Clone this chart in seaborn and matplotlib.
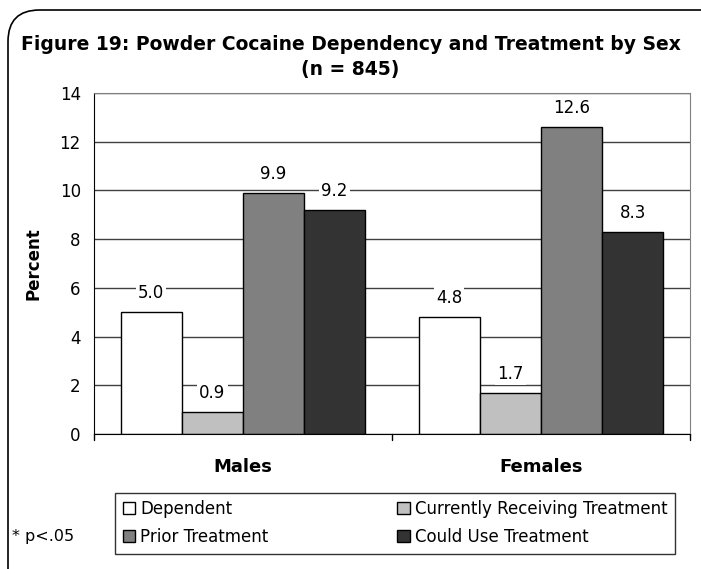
import matplotlib
matplotlib.use("Agg")
import matplotlib.pyplot as plt
import seaborn as sns
import pandas as pd
from matplotlib.patches import FancyBboxPatch

sexes = ["Males", "Females"]
measures = ["Dependent", "Currently Receiving Treatment", "Prior Treatment", "Could Use Treatment"]
males_pct = [5.0, 0.9, 9.9, 9.2]
females_pct = [4.8, 1.7, 12.6, 8.3]
bar_colors = ["#ffffff", "#c0c0c0", "#808080", "#333333"]

rows = []
for m, a, b in zip(measures, males_pct, females_pct):
    rows.append({"sex": "Males", "measure": m, "pct": a})
    rows.append({"sex": "Females", "measure": m, "pct": b})
df = pd.DataFrame(rows)

sns.set_style("white")
plt.rcParams["font.family"] = ["DejaVu Sans"]
plt.rcParams["text.color"] = "black"
plt.rcParams["axes.labelcolor"] = "black"
plt.rcParams["xtick.color"] = "black"
plt.rcParams["ytick.color"] = "black"

fig = plt.figure(figsize=(7.01, 5.69), dpi=100)
ax = fig.add_axes([94 / 701, 1 - 434 / 569, 596 / 701, 341 / 569])

sns.barplot(data=df, x="sex", y="pct", hue="measure", order=sexes,
            hue_order=measures, palette=bar_colors, edgecolor="black",
            linewidth=1, width=0.82, saturation=1, ax=ax)

ax.set_ylim(0, 14)
ax.set_yticks(range(0, 15, 2))
ax.set_xlim(-0.5, 1.5)
ax.grid(axis="y", color="#404040", linewidth=1)
ax.set_axisbelow(True)
for s in ["top", "right"]:
    ax.spines[s].set_color("#808080")
for s in ["left", "bottom"]:
    ax.spines[s].set_color("black")
ax.tick_params(axis="y", direction="out", length=6, color="black", labelsize=12)
ax.set_xticks([0, 1])
ax.set_xticklabels(sexes, fontsize=13, fontweight="bold")
ax.tick_params(axis="x", length=0, pad=17)
# separator ticks between categories
for xv in [-0.5, 0.5, 1.5]:
    ax.plot([xv, xv], [0, -0.25], color="black", lw=1, clip_on=False)
ax.set_xlabel("")
ax.set_ylabel("Percent", fontsize=12, fontweight="bold", labelpad=12)

for cont in ax.containers:
    ax.bar_label(cont, fmt="%.1f", padding=7, fontsize=12,
                 bbox=dict(facecolor="white", edgecolor="none", pad=1.5))

handles, labels = ax.get_legend_handles_labels()
order = [0, 2, 1, 3]
leg = ax.legend([handles[i] for i in order], [labels[i] for i in order],
                ncol=2, loc="center", mode="expand",
                bbox_to_anchor=(115 / 701, 1 - 556 / 569, 560 / 701, 66 / 569),
                bbox_transform=fig.transFigure, fontsize=12, frameon=True,
                fancybox=False, edgecolor="black", handlelength=0.75,
                handleheight=0.75, handletextpad=0.3, columnspacing=3,
                labelspacing=0.6, borderpad=0.45, borderaxespad=0)
leg.get_frame().set_linewidth(1)

fig.text(0.5, 1 - 45 / 569, "Figure 19: Powder Cocaine Dependency and Treatment by Sex",
         ha="center", va="center", fontsize=13.5, fontweight="bold")
fig.text(0.5, 1 - 70 / 569, "(n = 845)", ha="center", va="center",
         fontsize=13.5, fontweight="bold")
fig.text(12 / 701, 1 - 537 / 569, "* p<.05", ha="left", va="center", fontsize=11.5)

frame = FancyBboxPatch((8 / 701, -0.1), 1.1, 1 - 10 / 569 + 0.1,
                       boxstyle="round,pad=0,rounding_size=0.045",
                       transform=fig.transFigure, fill=False,
                       edgecolor="black", linewidth=1.2, mutation_aspect=701 / 569)
fig.patches.append(frame)

fig.savefig("out.png", dpi=100)
